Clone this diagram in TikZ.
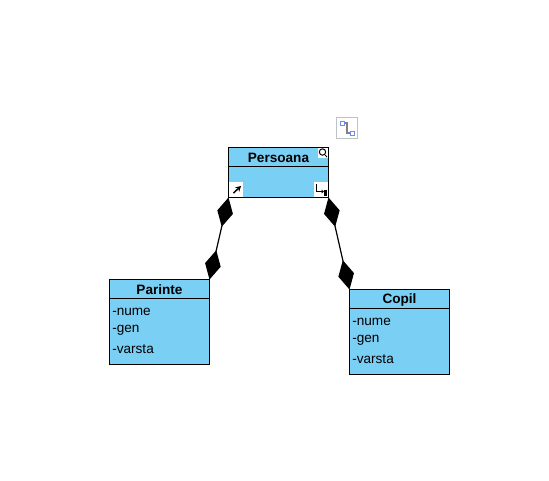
\documentclass[tikz,border=0pt]{standalone}
\usepackage{fontspec}
\setmainfont{Liberation Sans}
\usetikzlibrary{arrows.meta}
\definecolor{umlfill}{RGB}{122,207,245}
\definecolor{iconedge}{RGB}{190,195,200}
\definecolor{iconblue}{RGB}{110,140,235}
\definecolor{icongrey}{RGB}{130,130,130}
\tikzset{
  x=0.75pt,y=-0.75pt,
  umlbox/.style={draw=black,fill=umlfill,line width=0.9pt,minimum width=75pt,inner sep=0pt,outer sep=0pt,anchor=north west},
  umltitle/.style={font=\bfseries\fontsize{10.2pt}{12pt}\selectfont,anchor=center,inner sep=0pt},
  umlattr/.style={font=\fontsize{10.2pt}{12pt}\selectfont,anchor=west,inner sep=0pt},
  divider/.style={line width=0.9pt},
  assoc/.style={line width=0.9pt,{Diamond[length=22.5pt,width=12pt,fill=black]}-{Diamond[length=22.5pt,width=12pt,fill=black]}},
  cornericon/.style={fill=white,draw=none,inner sep=0pt,minimum size=11pt},
}
\begin{document}
\begin{tikzpicture}
\useasboundingbox (0,0) rectangle (549,480);
\fill[white] (0,0) rectangle (549,480);
% boxes
\node[umlbox,minimum height=37.5pt] (persoana) at (228.5,147.5) {};
\node[umlbox,minimum height=63.75pt] (parinte) at (109.5,279.5) {};
\node[umlbox,minimum height=63.75pt] (copil) at (349.5,289.5) {};
\draw[divider] (228.5,166.5) -- (328.5,166.5);
\draw[divider] (109.5,298.5) -- (209.5,298.5);
\draw[divider] (349.5,308.5) -- (449.5,308.5);
% texts
\node[umltitle] (t1) at (278.5,157.5) {Persoana};
\node[umltitle] (t2) at (159.5,290) {Parinte};
\node[umltitle] (t3) at (399.5,300) {Copil};
\node[umlattr] (a1) at (112,311.5) {-nume};
\node[umlattr] (a2) at (112,330.5) {-gen};
\node[umlattr] (a3) at (112,349.5) {-varsta};
\node[umlattr] (b1) at (352,321.5) {-nume};
\node[umlattr] (b2) at (352,340.5) {-gen};
\node[umlattr] (b3) at (352,359.5) {-varsta};
% connectors
\draw[assoc] (persoana.south west) -- (parinte.north east);
\draw[assoc] (persoana.south east) -- (copil.north west);
% corner icons
\fill[white] (317.5,147.5) rectangle (328,157.5);
\draw[line width=0.75pt] (322.5,152) circle (3.2);
\draw[line width=0.75pt] (325,155) -- (327,157);
\fill[white] (229,182) rectangle (243,196.5);
\draw[line width=1.1pt,-{Stealth[length=4pt,width=4.5pt]}] (233.5,193) -- (241,186);
\fill[white] (313.5,182) rectangle (328,196.5);
\draw[line width=0.75pt] (316.5,184) -- (316.5,191.5) -- (322,191.5);
\fill (324,190) rectangle (327,196);
\fill (321.5,189.5) -- (324,191.5) -- (321.5,193.5) -- cycle;
% floating icon
\draw[iconedge,line width=0.75pt,fill=white] (336.5,117.5) rectangle (357.5,138.5);
\draw[icongrey,line width=1.2pt] (345,123) -- (347,123) -- (347,133) -- (350,133);
\draw[iconblue,line width=0.6pt,fill=white] (340.5,121) rectangle (344.5,125);
\draw[iconblue,line width=0.6pt,fill=white] (350.5,131) rectangle (354.5,135);
\end{tikzpicture}
\end{document}
